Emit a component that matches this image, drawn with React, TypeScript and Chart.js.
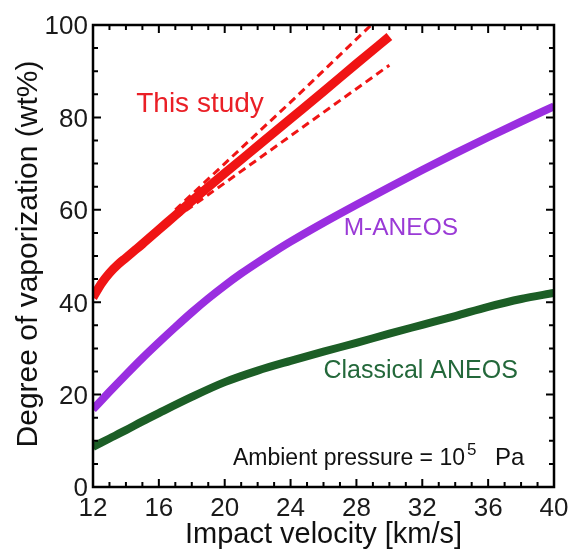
import React, { useEffect, useRef } from "react";
import { Chart, registerables } from "chart.js";
Chart.register(...registerables);

// ---- data ----
const thisStudyV = [12, 12.5, 13, 13.5, 14, 14.5, 15, 16, 17, 18, 20, 22, 24, 26, 28, 30];
const thisStudyVap = [41, 44, 46.3, 48.1, 49.6, 51.1, 52.6, 55.7, 58.8, 61.9, 67.9, 73.8, 79.7, 85.6, 91.6, 97.5];
const upperV = [17, 20, 24, 28.9];
const upperVap = [60, 70, 83.3, 100];
const lowerV = [17, 20, 24, 30];
const lowerVap = [58.2, 65.8, 76, 91.3];
const mAneosV = [12, 13, 14, 15, 16, 17, 18, 19, 20, 21, 22, 23, 24, 26, 28, 30, 32, 34, 36, 38, 40];
const mAneosVap = [16.8, 20.6, 24.3, 27.9, 31.3, 34.6, 37.8, 40.8, 43.6, 46.2, 48.6, 50.9, 53.1, 57.2, 61.1, 64.9, 68.6, 72.2, 75.7, 79.1, 82.4];
const classicalV = [12, 13, 14, 15, 16, 18, 20, 22, 24, 26, 28, 30, 32, 34, 36, 38, 40];
const classicalVap = [8.7, 10.5, 12.3, 14.2, 16, 19.5, 22.7, 25.2, 27.3, 29.3, 31.2, 33.2, 35.1, 37, 39, 40.7, 42];
const xTickLabels = [12, 16, 20, 24, 28, 32, 36, 40];
const yTickLabels = [0, 20, 40, 60, 80, 100];

const FONT = "'Liberation Sans', Arial, Helvetica, sans-serif";
const RED = "#f01414";
const PURPLE = "#9a2ee0";
const GREEN = "#1c5e26";

const pts = (xs: number[], ys: number[]) => xs.map((v, i) => ({ x: v, y: ys[i] }));

const decorPlugin = {
  id: "decor",
  afterDatasetsDraw(chart: any) {
    const { ctx, chartArea: a, scales } = chart;
    const x = scales.x;
    const y = scales.y;
    ctx.save();
    // frame
    ctx.strokeStyle = "#000";
    ctx.lineWidth = 2.5;
    ctx.strokeRect(a.left, a.top, a.right - a.left, a.bottom - a.top);
    // ticks
    ctx.lineWidth = 2;
    ctx.beginPath();
    for (let v = 12; v <= 40; v++) {
      const px = x.getPixelForValue(v);
      const len = xTickLabels.includes(v) ? 8 : 5;
      ctx.moveTo(px, a.bottom);
      ctx.lineTo(px, a.bottom - len);
      ctx.moveTo(px, a.top);
      ctx.lineTo(px, a.top + len);
    }
    for (let v = 0; v <= 100; v += 5) {
      const py = y.getPixelForValue(v);
      const len = yTickLabels.includes(v) ? 8 : 5;
      ctx.moveTo(a.left, py);
      ctx.lineTo(a.left + len, py);
      ctx.moveTo(a.right, py);
      ctx.lineTo(a.right - len, py);
    }
    ctx.stroke();

    // tick labels
    const tf = 26;
    ctx.fillStyle = "#1a1a1a";
    ctx.font = `${tf}px ${FONT}`;
    ctx.textBaseline = "alphabetic";
    ctx.textAlign = "center";
    xTickLabels.forEach((v) => {
      ctx.fillText(String(v), x.getPixelForValue(v), a.bottom + 29);
    });
    ctx.textAlign = "right";
    yTickLabels.forEach((v) => {
      ctx.fillText(String(v), a.left - 5, y.getPixelForValue(v) + 0.358 * tf);
    });

    // axis titles
    ctx.fillStyle = "#111";
    ctx.font = `29px ${FONT}`;
    ctx.textAlign = "center";
    ctx.fillText("Impact velocity [km/s]", (a.left + a.right) / 2, a.bottom + 56);
    ctx.save();
    ctx.translate(37, 254);
    ctx.rotate(-Math.PI / 2);
    ctx.font = `30px ${FONT}`;
    ctx.fillText("Degree of vaporization (wt%)", 0, 0);
    ctx.restore();

    // annotations (placed in data coordinates)
    ctx.textAlign = "center";
    ctx.font = `28px ${FONT}`;
    ctx.fillStyle = "#ea1f26";
    ctx.fillText("This study", x.getPixelForValue(18.5), y.getPixelForValue(81.2));
    ctx.font = `24.5px ${FONT}`;
    ctx.fillStyle = "#9a3ad6";
    ctx.fillText("M-ANEOS", x.getPixelForValue(30.7), y.getPixelForValue(54.5));
    ctx.font = `25px ${FONT}`;
    ctx.fillStyle = "#23683a";
    ctx.fillText("Classical ANEOS", x.getPixelForValue(31.9), y.getPixelForValue(23.6));

    // ambient pressure
    ctx.fillStyle = "#111";
    ctx.textAlign = "left";
    ctx.font = `23px ${FONT}`;
    const ax = x.getPixelForValue(20.5);
    const ay = y.getPixelForValue(4.8);
    const main = "Ambient pressure = 10";
    ctx.fillText(main, ax, ay);
    const w1 = ctx.measureText(main).width;
    ctx.font = `17px ${FONT}`;
    ctx.fillText("5", ax + w1 + 2, ay - 10);
    ctx.font = `24px ${FONT}`;
    ctx.fillText("Pa", ax + w1 + 30, ay);
    ctx.restore();
  },
};

export default function App() {
  const ref = useRef<HTMLCanvasElement | null>(null);
  useEffect(() => {
    if (!ref.current) return;
    const chart = new Chart(ref.current, {
      type: "line",
      data: {
        datasets: [
          {
            label: "M-ANEOS",
            data: pts(mAneosV, mAneosVap),
            borderColor: PURPLE,
            borderWidth: 8,
            pointRadius: 0,
            cubicInterpolationMode: "monotone",
            fill: false,
          },
          {
            label: "Classical ANEOS",
            data: pts(classicalV, classicalVap),
            borderColor: GREEN,
            borderWidth: 8,
            pointRadius: 0,
            cubicInterpolationMode: "monotone",
            fill: false,
          },
          {
            label: "Upper",
            data: pts(upperV, upperVap),
            borderColor: RED,
            borderWidth: 3,
            borderDash: [8, 5],
            pointRadius: 0,
            fill: false,
          },
          {
            label: "Lower",
            data: pts(lowerV, lowerVap),
            borderColor: RED,
            borderWidth: 3,
            borderDash: [8, 5],
            pointRadius: 0,
            fill: false,
          },
          {
            label: "This study",
            data: pts(thisStudyV, thisStudyVap),
            borderColor: RED,
            borderWidth: 9,
            pointRadius: 0,
            cubicInterpolationMode: "monotone",
            fill: false,
          },
        ],
      },
      options: {
        responsive: false,
        animation: false,
        layout: { padding: { left: 93, right: 18, top: 25, bottom: 64 } },
        plugins: { legend: { display: false }, tooltip: { enabled: false }, title: { display: false } },
        scales: {
          x: { type: "linear", min: 12, max: 40, display: false },
          y: { type: "linear", min: 0, max: 100, display: false },
        },
      },
      plugins: [decorPlugin],
    } as any);
    return () => chart.destroy();
  }, []);
  return (
    <div style={{ position: "absolute", left: 0, top: 0, width: 572, height: 551, background: "#fff" }}>
      <canvas ref={ref} width={572} height={551} style={{ width: 572, height: 551, display: "block" }} />
    </div>
  );
}
